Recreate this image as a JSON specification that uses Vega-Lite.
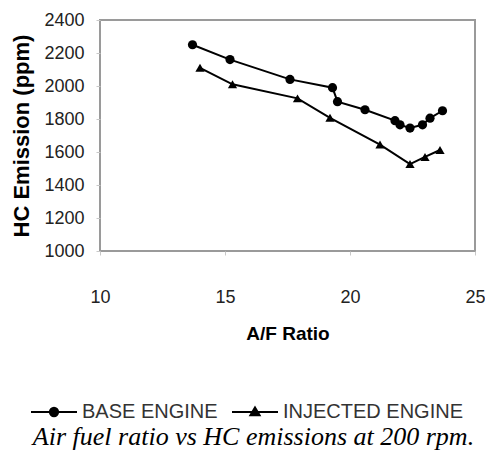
{
  "$schema": "https://vega.github.io/schema/vega-lite/v6.json",
  "autosize": {"type": "none"},
  "width": 375,
  "height": 231,
  "padding": {"left": 100, "top": 20, "right": 10, "bottom": 204},
  "background": "white",
  "title": {
    "text": "Air fuel ratio vs HC emissions at 200 rpm.",
    "orient": "bottom",
    "anchor": "middle",
    "font": "Liberation Serif",
    "fontStyle": "italic",
    "fontWeight": "normal",
    "fontSize": 26,
    "color": "black",
    "dx": -34,
    "offset": 2
  },
  "config": {
    "view": {"stroke": "#9a9a9a", "strokeWidth": 2},
    "axis": {
      "grid": false,
      "domain": false,
      "tickColor": "#c8c8c8",
      "tickSize": 4,
      "labelFont": "Liberation Sans",
      "labelFontSize": 18,
      "labelColor": "#222222",
      "titleFont": "Liberation Sans",
      "titleFontWeight": "bold",
      "titleFontSize": 19,
      "titleColor": "black"
    }
  },
  "data": {
    "values": [
      {"engine": "BASE ENGINE", "af": 13.7, "hc": 2250},
      {"engine": "BASE ENGINE", "af": 15.2, "hc": 2160},
      {"engine": "BASE ENGINE", "af": 17.6, "hc": 2040},
      {"engine": "BASE ENGINE", "af": 19.3, "hc": 1990},
      {"engine": "BASE ENGINE", "af": 19.5, "hc": 1905},
      {"engine": "BASE ENGINE", "af": 20.6, "hc": 1856},
      {"engine": "BASE ENGINE", "af": 21.8, "hc": 1790},
      {"engine": "BASE ENGINE", "af": 22.0, "hc": 1765},
      {"engine": "BASE ENGINE", "af": 22.4, "hc": 1745},
      {"engine": "BASE ENGINE", "af": 22.9, "hc": 1765},
      {"engine": "BASE ENGINE", "af": 23.2, "hc": 1805},
      {"engine": "BASE ENGINE", "af": 23.7, "hc": 1850},
      {"engine": "INJECTED ENGINE", "af": 14.0, "hc": 2110},
      {"engine": "INJECTED ENGINE", "af": 15.3, "hc": 2010},
      {"engine": "INJECTED ENGINE", "af": 17.9, "hc": 1925},
      {"engine": "INJECTED ENGINE", "af": 19.2, "hc": 1807},
      {"engine": "INJECTED ENGINE", "af": 21.2, "hc": 1645},
      {"engine": "INJECTED ENGINE", "af": 22.4, "hc": 1527},
      {"engine": "INJECTED ENGINE", "af": 23.0, "hc": 1570},
      {"engine": "INJECTED ENGINE", "af": 23.6, "hc": 1612}
    ]
  },
  "encoding": {
    "x": {
      "field": "af",
      "type": "quantitative",
      "scale": {"domain": [10, 25], "nice": false, "zero": false},
      "axis": {"values": [10, 15, 20, 25], "format": "d", "title": "A/F Ratio", "labelPadding": 33, "titlePadding": 18, "labelFlush": false}
    },
    "y": {
      "field": "hc",
      "type": "quantitative",
      "scale": {"domain": [1000, 2400], "nice": false, "zero": false},
      "axis": {"values": [1000, 1200, 1400, 1600, 1800, 2000, 2200, 2400], "format": "d", "title": "HC Emission (ppm)", "titleFontSize": 22, "labelPadding": 12, "titlePadding": 10, "labelFlush": false}
    }
  },
  "layer": [
    {
      "mark": {"type": "line", "color": "black", "strokeWidth": 2},
      "encoding": {"detail": {"field": "engine"}, "order": {"field": "af"}}
    },
    {
      "mark": {"type": "point", "filled": true, "color": "black", "opacity": 1, "size": 85},
      "encoding": {
        "shape": {
          "field": "engine",
          "type": "nominal",
          "scale": {"domain": ["BASE ENGINE", "INJECTED ENGINE"], "range": ["circle", "triangle-up"]},
          "legend": null
        }
      }
    },
    {
      "transform": [{"filter": "false"}],
      "mark": {"type": "point", "filled": true, "color": "black", "stroke": "black", "strokeWidth": 2, "opacity": 1, "size": 2116},
      "encoding": {
        "shape": {
          "field": "engine",
          "type": "nominal",
          "scale": {
            "domain": ["BASE ENGINE", "INJECTED ENGINE"],
            "range": [
              "M-1,0H1M-0.18,0A0.18,0.18,0,1,1,0.18,0A0.18,0.18,0,1,1,-0.18,0Z",
              "M-1,0H1M0,-0.2L0.2,0.14L-0.2,0.14Z"
            ]
          },
          "legend": {
            "title": null,
            "orient": "none",
            "legendX": -70,
            "legendY": 368,
            "direction": "horizontal",
            "labelFont": "Liberation Sans",
            "labelFontSize": 20,
            "labelColor": "#333333",
            "labelLimit": 0,
            "labelOffset": 4,
            "columnPadding": 10,
            "symbolStrokeWidth": 2,
            "symbolSize": 2116
          }
        }
      }
    }
  ],
  "resolve": {"scale": {"shape": "independent"}, "legend": {"shape": "independent"}}
}
